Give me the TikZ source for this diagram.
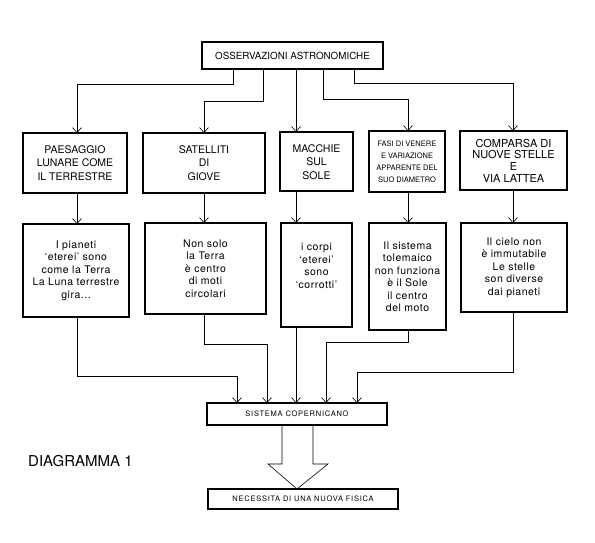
\documentclass[tikz,border=0pt]{standalone}
\usepackage{fontspec}
\setmainfont{TeX Gyre Heros}
\newfontfamily\spacedfont[LetterSpace=5]{TeX Gyre Heros}
\newfontfamily\widefont[LetterSpace=10]{TeX Gyre Heros}
\usetikzlibrary{arrows.meta}
\begin{document}
\begin{tikzpicture}[x=1pt,y=-1pt,
  box/.style={draw, line width=1.1pt, inner sep=0pt, outer sep=0pt, align=center},
  conn/.style={line width=0.6pt, -{Straight Barb[length=5pt,width=9pt,line width=0.6pt]}},
  head/.style={font=\fontsize{10.5}{13.5}\selectfont},
  body/.style={font=\spacedfont\fontsize{10.5}{12.5}\selectfont},
  tiny/.style={font=\widefont\fontsize{7.5}{9}\selectfont}]
\useasboundingbox (0,0) rectangle (595,543);

% top
\node[box, minimum width=181pt, minimum height=27pt, font=\fontsize{9.8}{12}\selectfont] (top) at (292.5,55.5) {OSSERVAZIONI ASTRONOMICHE};

% row 1
\node[box, head, minimum width=104pt, minimum height=60pt] (b1) at (75,163) {PAESAGGIO\\LUNARE COME\\IL TERRESTRE};
\node[box, head, minimum width=122pt, minimum height=60pt] (b2) at (204,163) {SATELLITI\\DI\\GIOVE};
\node[box, head, minimum width=73pt, minimum height=59pt] (b3) at (316.5,161.5) {\mbox{}\\[-5pt]MACCHIE\\SUL\\SOLE};
\node[box, font=\fontsize{7.5}{12}\selectfont, minimum width=76pt, minimum height=61pt] (b4) at (407,161.5) {FASI DI VENERE\\E VARIAZIONE\\APPARENTE DEL\\SUO DIAMETRO};
\node[box, font=\fontsize{11}{11.7}\selectfont, minimum width=107pt, minimum height=59pt] (b5) at (513.5,160.5) {COMPARSA DI\\NUOVE STELLE\\E\\VIA LATTEA};

% row 2
\node[box, body, minimum width=106pt, minimum height=93pt] (c1) at (76,270.5) {I pianeti\\‘eterei’ sono\\come la Terra\\La Luna terrestre\\gira...};
\node[box, body, minimum width=121pt, minimum height=91pt] (c2) at (205.5,268.5) {Non solo\\la Terra\\è centro\\di moti\\circolari};
\node[box, body, minimum width=71pt, minimum height=104pt] (c3) at (316.5,275) {i corpi\\‘eterei’\\sono\\‘corrotti’\\[6pt]\mbox{}};
\node[box, body, minimum width=77pt, minimum height=107pt] (c4) at (407.5,276.5) {Il sistema\\tolemaico\\non funziona\\è il Sole\\il centro\\del moto};
\node[box, body, minimum width=106pt, minimum height=89pt] (c5) at (514,267.5) {Il cielo non\\è immutabile\\Le stelle\\son diverse\\dai pianeti};

% bottom
\node[box, tiny, line width=1.2pt, minimum width=180pt, minimum height=22pt] (sis) at (297,414) {SISTEMA COPERNICANO};
\node[box, tiny, line width=1.2pt, minimum width=190pt, minimum height=20pt] (nec) at (303,499) {NECESSITA DI UNA NUOVA FISICA};

\node[anchor=base west, inner sep=0pt, font=\fontsize{15}{18}\selectfont] (dia) at (28,466) {DIAGRAMMA 1};

% column coordinates
\coordinate (col1) at (77,0);
\coordinate (col2) at (204,0);
\coordinate (col3) at (296,0);
\coordinate (col4) at (408,0);
\coordinate (col5) at (513,0);
\coordinate (k1) at (233,0);
\coordinate (k2) at (263,0);
\coordinate (k4) at (323,0);
\coordinate (k5) at (354,0);
\coordinate (s1) at (237,0);
\coordinate (s2) at (267,0);
\coordinate (s4) at (326,0);
\coordinate (s5) at (357,0);
\coordinate (L1) at (0,84);
\coordinate (L2) at (0,101);
\coordinate (L4) at (0,99);
\coordinate (L5) at (0,83);
\coordinate (G1) at (0,376);
\coordinate (G2) at (0,344);
\coordinate (G4) at (0,342);
\coordinate (G5) at (0,372);

% top to row 1
\draw[conn] (top.south -| k1) |- (L1 -| col1) -- (b1.north -| col1);
\draw[conn] (top.south -| k2) |- (L2 -| col2) -- (b2.north -| col2);
\draw[conn] (top.south -| col3) -- (b3.north -| col3);
\draw[conn] (top.south -| k4) |- (L4 -| col4) -- (b4.north -| col4);
\draw[conn] (top.south -| k5) |- (L5 -| col5) -- (b5.north -| col5);

% row 1 to row 2
\draw[conn] (b1.south -| col1) -- (c1.north -| col1);
\draw[conn] (b2.south -| col2) -- (c2.north -| col2);
\draw[conn] (b3.south -| col3) -- (c3.north -| col3);
\draw[conn] (b4.south -| col4) -- (c4.north -| col4);
\draw[conn] (b5.south -| col5) -- (c5.north -| col5);

% row 2 to sistema
\draw[conn] (c1.south -| col1) |- (G1 -| s1) -- (sis.north -| s1);
\draw[conn] (c2.south -| col2) |- (G2 -| s2) -- (sis.north -| s2);
\draw[conn] (c3.south -| col3) -- (sis.north -| col3);
\draw[conn] (c4.south -| col4) |- (G4 -| s4) -- (sis.north -| s4);
\draw[conn] (c5.south -| col5) |- (G5 -| s5) -- (sis.north -| s5);

% hollow arrow
\coordinate (a1) at (282,0);
\coordinate (a2) at (313,0);
\coordinate (tip) at (297,0);
\draw[line width=0.6pt] (sis.south -| a1) -- (282,464) -- (268,464) -- (nec.north -| tip) -- (328,464) -- (313,464) -- (sis.south -| a2);
\end{tikzpicture}
\end{document}
